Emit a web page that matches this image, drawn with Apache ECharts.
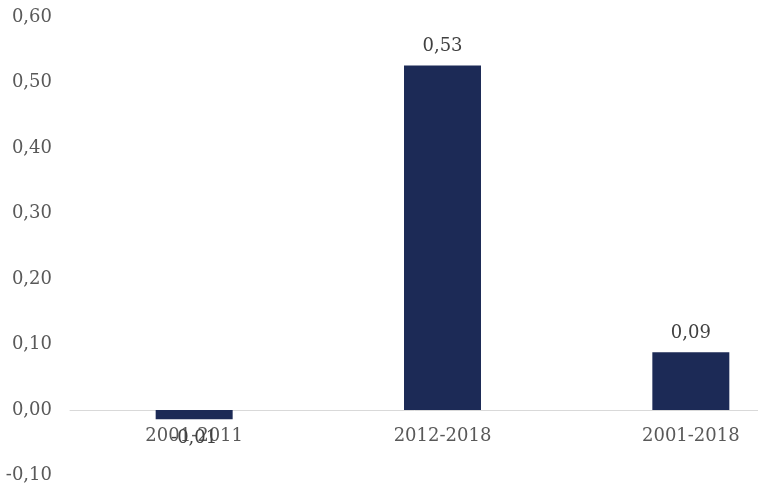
<!DOCTYPE html>
<html>
<head>
<meta charset="utf-8">
<script src="https://cdn.jsdelivr.net/npm/echarts@6/dist/echarts.min.js"></script>
<style>
  html, body { margin: 0; padding: 0; background: #fff; }
  #chart { width: 758px; height: 487px; }
</style>
</head>
<body>
<div id="chart"></div>
<script>
const categories = ['2001-2011', '2012-2018', '2001-2018']
const values = [-0.014, 0.526, 0.088]
const yTicks = { min: -0.1, max: 0.6, interval: 0.1 }

const fmt = v => v.toFixed(2).replace('.', ',')
const font = 'DejaVu Serif'

const chart = echarts.init(document.getElementById('chart'))
chart.setOption({
  animation: false,
  grid: {
    top: 17,
    bottom: 11.5,
    left: 70,
    width: 745,
    containLabel: false,
    outerBoundsMode: 'none'
  },
  xAxis: {
    type: 'category',
    data: categories,
    axisTick: { show: false },
    axisLine: { onZero: true, lineStyle: { color: '#d9d9d9', width: 1 } },
    axisLabel: {
      // v6 keeps category labels at the grid edge, pull them up under the zero line
      margin: -48,
      color: '#595959',
      fontFamily: font,
      fontSize: 18
    }
  },
  yAxis: {
    type: 'value',
    min: yTicks.min,
    max: yTicks.max,
    interval: yTicks.interval,
    splitLine: { show: false },
    axisLine: { show: false },
    axisTick: { show: false },
    axisLabel: {
      margin: 18,
      color: '#595959',
      fontFamily: font,
      fontSize: 18,
      formatter: fmt
    }
  },
  series: [{
    type: 'bar',
    barWidth: '31%',
    itemStyle: { color: '#1c2a56' },
    data: values.map(v => ({
      value: v,
      label: { position: v < 0 ? 'bottom' : 'top' }
    })),
    label: {
      show: true,
      distance: 10,
      color: '#404040',
      fontFamily: font,
      fontSize: 18,
      formatter: p => fmt(p.value)
    }
  }]
})
</script>
</body>
</html>
